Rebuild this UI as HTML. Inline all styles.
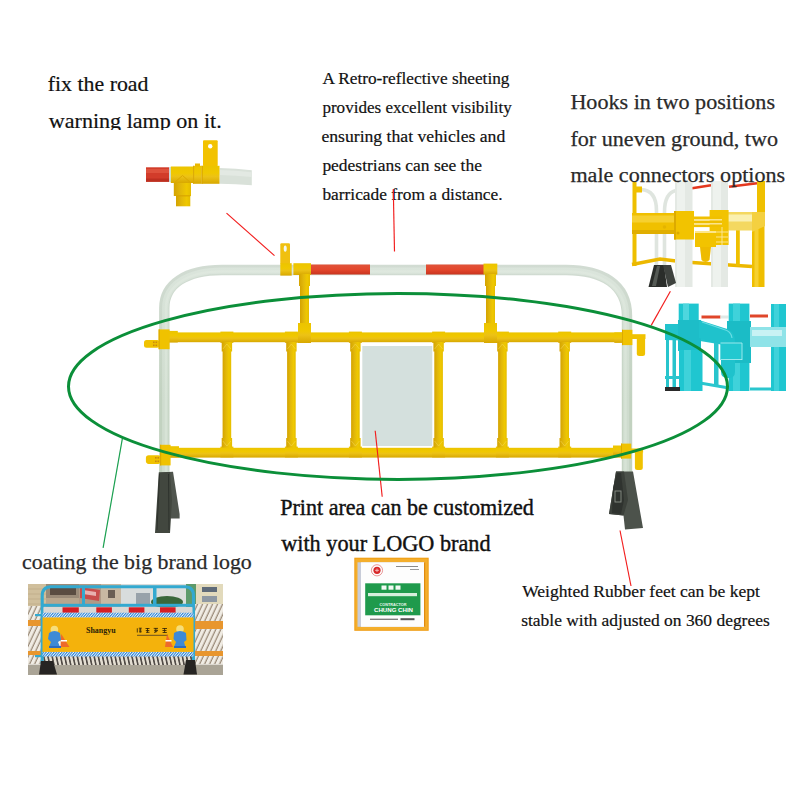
<!DOCTYPE html>
<html><head><meta charset="utf-8">
<style>
html,body{margin:0;padding:0;background:#fff;width:800px;height:800px;overflow:hidden}
svg{position:absolute;left:0;top:0;display:block}
text{font-family:"Liberation Serif",serif;fill:#111}
.t{stroke:#111;stroke-width:0.4}
.ts{stroke:#111;stroke-width:0.2}
.s{font-family:"Liberation Sans",sans-serif}
</style></head><body>
<svg width="800" height="800" viewBox="0 0 800 800">
<defs>
  <linearGradient id="yv" x1="0" y1="0" x2="1" y2="0">
    <stop offset="0" stop-color="#d4a300"/><stop offset="0.4" stop-color="#e2b80a"/><stop offset="0.75" stop-color="#efc800"/><stop offset="1" stop-color="#e4bc00"/>
  </linearGradient>
  <linearGradient id="yh" x1="0" y1="0" x2="0" y2="1">
    <stop offset="0" stop-color="#ecc400"/><stop offset="0.4" stop-color="#f0c800"/><stop offset="0.6" stop-color="#ecc216"/><stop offset="1" stop-color="#d8a800"/>
  </linearGradient>
  <linearGradient id="wv" x1="0" y1="0" x2="1" y2="0">
    <stop offset="0" stop-color="#c9d2cc"/><stop offset="0.4" stop-color="#eef2ee"/><stop offset="1" stop-color="#cdd6d0"/>
  </linearGradient>
  <linearGradient id="wh" x1="0" y1="0" x2="0" y2="1">
    <stop offset="0" stop-color="#d3dbd5"/><stop offset="0.4" stop-color="#eef2ee"/><stop offset="1" stop-color="#cdd6d0"/>
  </linearGradient>
  <linearGradient id="rh" x1="0" y1="0" x2="0" y2="1">
    <stop offset="0" stop-color="#e0533a"/><stop offset="0.5" stop-color="#e4472c"/><stop offset="1" stop-color="#c8341f"/>
  </linearGradient>
  <linearGradient id="tO" gradientUnits="userSpaceOnUse" x1="0" y1="262" x2="0" y2="400">
    <stop offset="0" stop-color="#d2dcd3"/><stop offset="1" stop-color="#c2d2c0"/>
  </linearGradient>
  <linearGradient id="tM" gradientUnits="userSpaceOnUse" x1="0" y1="262" x2="0" y2="400">
    <stop offset="0" stop-color="#dbe5dc"/><stop offset="1" stop-color="#cfdcce"/>
  </linearGradient>
  <linearGradient id="tH" gradientUnits="userSpaceOnUse" x1="0" y1="262" x2="0" y2="400">
    <stop offset="0" stop-color="#dfe8df"/><stop offset="1" stop-color="#d7e3d6"/>
  </linearGradient>
</defs>

<!-- ===== TEXT ===== -->
<text class="ts" x="47.7" y="91.25" textLength="100.8" lengthAdjust="spacingAndGlyphs" font-size="21">fix the road</text>
<text class="ts" x="48.8" y="127.60" textLength="172.9" lengthAdjust="spacingAndGlyphs" font-size="21">warning lamp on it.</text>

<g font-size="17.4">
<text class="ts" x="322.4" y="83.80" textLength="187.1" lengthAdjust="spacingAndGlyphs">A Retro-reflective sheeting</text>
<text class="ts" x="322.4" y="112.60" textLength="189.5" lengthAdjust="spacingAndGlyphs">provides excellent visibility</text>
<text class="ts" x="321.4" y="142.20" textLength="183.9" lengthAdjust="spacingAndGlyphs">ensuring that vehicles and</text>
<text class="ts" x="322.4" y="171.10" textLength="159.5" lengthAdjust="spacingAndGlyphs">pedestrians can see the</text>
<text class="ts" x="322.4" y="200.3" textLength="180.2" lengthAdjust="spacingAndGlyphs">barricade from a distance.</text>
</g>

<g font-size="21.6" style="fill:#2a2a2a;stroke:#2a2a2a;stroke-width:0.25">
<text class="t" x="570.4" y="108.90" textLength="204.6" lengthAdjust="spacingAndGlyphs" style="fill:#2a2a2a;stroke:#2a2a2a;stroke-width:0.25">Hooks in two positions</text>
<text class="t" x="570.4" y="145.50" textLength="207.6" lengthAdjust="spacingAndGlyphs" style="fill:#2a2a2a;stroke:#2a2a2a;stroke-width:0.25">for uneven ground, two</text>
</g>

<!-- ===== LAMP INSET ===== -->
<rect x="40" y="130" width="220" height="12" fill="#fff"/>
<g id="lamp">
  <rect x="146" y="167.3" width="23.5" height="14.5" fill="#d23c2a"/>
  <rect x="146" y="169" width="23.5" height="4" fill="#e25a45" opacity="0.7"/>
  <rect x="146" y="178.5" width="23.5" height="3.3" fill="#b82c1e" opacity="0.8"/>
  <rect x="169.2" y="167" width="2" height="15" fill="#c9e6ee"/>
  <path d="M219.5 168 Q236 168.5 251.8 170.3 L251.8 185.3 Q236 183.8 219.5 183.8 Z" fill="#d9e1d9"/>
  <path d="M219.5 170 Q236 170.5 251.8 172.3 L251.8 177 Q236 175.5 219.5 175 Z" fill="#e3e9e3"/>
  <rect x="173.8" y="182" width="17.2" height="14" fill="url(#yv)"/>
  <rect x="176" y="195.5" width="14.3" height="10.8" fill="url(#yv)"/>
  <rect x="176" y="195.2" width="14.3" height="1.2" fill="#d9a600"/>
  <rect x="170.8" y="166.5" width="22.5" height="16.5" fill="url(#yh)"/>
  <path d="M174 183 L182.5 175.5 L191 183" fill="none" stroke="#dca800" stroke-width="1"/>
  <rect x="193.2" y="165.8" width="8.3" height="18" fill="url(#yh)"/><rect x="193.2" y="165.8" width="0.9" height="18" fill="#d8a400"/>
  <rect x="195" y="163.5" width="5" height="3" fill="#eab800"/>
  <rect x="203" y="140.3" width="14.7" height="26" rx="1" fill="#f2c200"/>
  <circle cx="210.2" cy="146.3" r="2.2" fill="#fff"/>
  <rect x="201.5" y="165.8" width="18" height="18" fill="url(#yh)"/>
  <rect x="201.5" y="165.8" width="1.2" height="18" fill="#d9a600"/>
</g>

<!-- ===== MAIN BARRIER ===== -->
<g id="barrier">
  <!-- white tube frame -->
  <path d="M164.3 473 L164.3 308 C164.3 284 186 270 222 270 L566 270 C602 270 627 284 627 316 L627 473" fill="none" stroke="url(#tO)" stroke-width="10.4"/>
  <path d="M165.3 473 L165.3 308 C165.3 285 187 270.6 222 270.6 L566 270.6 C601 270.6 626 285 626 316 L626 473" fill="none" stroke="url(#tM)" stroke-width="6.4"/>
  <path d="M166 473 L166 308 C166 286 187 271.4 222 271.4 L566 271.4 C600 271.4 625.5 286 625.5 316 L625.5 473" fill="none" stroke="url(#tH)" stroke-width="2.4"/>
  <!-- red reflective segments -->
  <rect x="311" y="264.5" width="59" height="10" fill="url(#rh)"/>
  <rect x="426" y="264.5" width="58" height="10" fill="url(#rh)"/>

  <!-- vertical connectors from top rail -->
  <rect x="300" y="272" width="9" height="62" fill="url(#yv)"/>
  <rect x="486" y="272" width="9" height="62" fill="url(#yv)"/>
  <!-- top T joints -->
  <rect x="293.4" y="263.2" width="17.6" height="11.8" fill="url(#yh)"/>
  <rect x="299" y="274" width="11" height="12" fill="url(#yv)"/>
  <rect x="483.5" y="263.6" width="13.8" height="11" fill="url(#yh)"/>
  <rect x="485" y="274" width="11" height="12" fill="url(#yv)"/>
  <!-- lamp bracket -->
  <rect x="280.3" y="243.2" width="9.7" height="21" rx="1.2" fill="#f0c010"/>
  <ellipse cx="285.2" cy="248.6" rx="1.5" ry="3.2" fill="#f4f8f0"/>
  <rect x="280.3" y="263.2" width="11.4" height="12.4" fill="url(#yh)"/>

  <!-- yellow rails -->
  <rect x="168" y="332.4" width="460" height="9.8" fill="url(#yh)"/>
  <rect x="168" y="447.8" width="460" height="9.8" fill="url(#yh)"/>

  <!-- vertical bars -->
  <g fill="url(#yv)">
    <rect x="222.6" y="340" width="8.6" height="110"/>
    <rect x="287.1" y="340" width="8.6" height="110"/>
    <rect x="351.1" y="340" width="8.6" height="110"/>
    <rect x="434.3" y="340" width="8.6" height="110"/>
    <rect x="498.1" y="340" width="8.6" height="110"/>
    <rect x="560.4" y="340" width="8.6" height="110"/>
  </g>
  <!-- panel -->
  <rect x="362.3" y="346" width="70" height="100" fill="#d4e0dd"/>

  <!-- joints on rails -->
  <g fill="url(#yh)">
    <rect x="220.4" y="331.6" width="13" height="11.2"/><rect x="284.9" y="331.6" width="13" height="11.2"/><rect x="348.9" y="331.6" width="13" height="11.2"/><rect x="432.1" y="331.6" width="13" height="11.2"/><rect x="495.9" y="331.6" width="13" height="11.2"/><rect x="558.2" y="331.6" width="13" height="11.2"/>
    <rect x="298" y="323" width="13" height="20"/><rect x="484" y="323" width="13" height="20"/>
    <rect x="220.4" y="446.6" width="13" height="10.8"/><rect x="284.9" y="446.6" width="13" height="10.8"/><rect x="348.9" y="446.6" width="13" height="10.8"/><rect x="432.1" y="446.6" width="13" height="10.8"/><rect x="495.9" y="446.6" width="13" height="10.8"/><rect x="558.2" y="446.6" width="13" height="10.8"/>
  </g>
  <g fill="url(#yv)">
    <rect x="221.7" y="342" width="10.4" height="9.5"/><rect x="286.2" y="342" width="10.4" height="9.5"/><rect x="350.2" y="342" width="10.4" height="9.5"/><rect x="433.4" y="342" width="10.4" height="9.5"/><rect x="497.2" y="342" width="10.4" height="9.5"/><rect x="559.5" y="342" width="10.4" height="9.5"/>
    <rect x="221.7" y="438" width="10.4" height="9.5"/><rect x="286.2" y="438" width="10.4" height="9.5"/><rect x="350.2" y="438" width="10.4" height="9.5"/><rect x="433.4" y="438" width="10.4" height="9.5"/><rect x="497.2" y="438" width="10.4" height="9.5"/><rect x="559.5" y="438" width="10.4" height="9.5"/>
  </g>
  <g stroke="#f8dc60" stroke-width="0.7" fill="none" opacity="0.7"><path d="M222.9 349 L226.9 344 L230.9 349"/><path d="M287.4 349 L291.4 344 L295.4 349"/><path d="M351.4 349 L355.4 344 L359.4 349"/><path d="M434.6 349 L438.6 344 L442.6 349"/><path d="M498.4 349 L502.4 344 L506.4 349"/><path d="M560.7 349 L564.7 344 L568.7 349"/><path d="M222.9 441 L226.9 446 L230.9 441"/><path d="M287.4 441 L291.4 446 L295.4 441"/><path d="M351.4 441 L355.4 446 L359.4 441"/><path d="M434.6 441 L438.6 446 L442.6 441"/><path d="M498.4 441 L502.4 446 L506.4 441"/><path d="M560.7 441 L564.7 446 L568.7 441"/></g>
  <!-- corner joints on white tube -->
  <g fill="#f0c200">
  <rect x="169" y="330.9" width="8.8" height="11.6" fill="url(#yh)"/>
  <rect x="158.6" y="329.4" width="11" height="19.8"/>
  <rect x="144" y="339.9" width="15.5" height="7.9" rx="2.5"/>
  <rect x="170" y="446.2" width="9" height="11.3" fill="url(#yh)"/>
  <rect x="160" y="444.8" width="10.6" height="20.6"/>
  <rect x="145.9" y="455.2" width="15" height="8.7" rx="2.8"/>
  <rect x="614.3" y="332.4" width="8.2" height="10.5" fill="url(#yh)"/>
  <rect x="622" y="329.8" width="10.4" height="15.3"/>
  <rect x="631.5" y="334.2" width="14" height="4.8"/>
  <rect x="636.8" y="337" width="8.3" height="19" rx="2.5"/>
  <rect x="613" y="445.5" width="8.5" height="9.5" fill="url(#yh)"/>
  <rect x="621" y="443.6" width="10.2" height="15"/>
  <rect x="630.5" y="448.5" width="12.6" height="4.2"/>
  <rect x="634.9" y="451" width="7.9" height="19" rx="2.5"/>
  </g>
  <g fill="#c88a10">
    <rect x="153" y="341.5" width="1.6" height="1.6"/><rect x="155.5" y="341.5" width="1.6" height="1.6"/>
    <rect x="153" y="344.5" width="1.6" height="1.6"/><rect x="155.5" y="344.5" width="1.6" height="1.6"/>
    <rect x="155" y="457" width="1.6" height="1.6"/><rect x="157.5" y="457" width="1.6" height="1.6"/>
    <rect x="155" y="460.5" width="1.6" height="1.6"/><rect x="157.5" y="460.5" width="1.6" height="1.6"/>
  </g>
  <rect x="158.6" y="329.4" width="1.2" height="19.8" fill="#dcaa00"/>
  <rect x="622" y="329.8" width="1" height="15.3" fill="#dcaa00"/>
  <rect x="160" y="444.8" width="1.2" height="20.6" fill="#dcaa00"/>
  <rect x="621" y="443.6" width="1" height="15" fill="#dcaa00"/>

  <!-- feet -->
  <polygon points="158.8,472.5 173,471.8 179.6,514 179.6,518.5 170,518.5" fill="#50554e"/>
  <polygon points="158.8,472.5 170,472 172,500 170,533 155,533" fill="#42473f"/>
  <path d="M159.5 474 L157 530 M168.5 474 L169 530" stroke="#2e322d" stroke-width="1"/>
  <polygon points="616,471.5 633,471.5 643,528 625,529.5 623.5,515.5 609,514" fill="#4c524b"/>
  <polygon points="616,471.5 624,471.5 628,500 623.5,515.5 609,514" fill="#3c413b"/>
  <polygon points="613,488 617,473 621,473 624,500 621,514 612,513" fill="#2f332f"/>
  <rect x="615" y="491" width="6" height="11" fill="none" stroke="#8a9088" stroke-width="0.9"/>
  </g>

<!-- ===== YELLOW HOOK PHOTO ===== -->
<g id="hookY">
  <!-- thin white arcs -->
  <path d="M641 189.5 Q656.5 190 656.5 211 L656.5 265" fill="none" stroke="#dfe5df" stroke-width="3.6"/>
  <path d="M676 190.5 Q664.5 193 664.5 212 L664.5 265" fill="none" stroke="#dfe5df" stroke-width="3.6"/>
  <!-- red top bars -->
  <path d="M692 188.3 L711 185.3" stroke="#e4381f" stroke-width="2.6"/>
  <path d="M729 186.8 L757 183.3" stroke="#e4381f" stroke-width="2.6"/>
  <!-- left thin yellow post -->
  <rect x="632.5" y="182" width="4" height="84" fill="#eebf00"/>
  <rect x="633" y="186.5" width="9" height="6" fill="#f0c000"/>
  <!-- lower rails -->
  <path d="M632 264.5 L660 259 L676 261" fill="none" stroke="#ecb800" stroke-width="3.4"/>
  <path d="M692 262.5 L752 266.5" fill="none" stroke="#ecb800" stroke-width="3.4"/>
  <rect x="736" y="229" width="3.8" height="37" fill="#efc000"/>
  <!-- big white tubes -->
  <rect x="675" y="181" width="17.5" height="106" fill="#e4e9e4"/>
  <rect x="677" y="181" width="8" height="106" fill="#eef2ee"/>
  <rect x="711" y="181" width="17" height="106" fill="#e4e9e4"/>
  <rect x="713" y="181" width="8" height="106" fill="#eef2ee"/>
  <!-- big horizontal yellow tube -->
  <rect x="632" y="213" width="44" height="21" fill="#f0c000"/>
  <rect x="632" y="215.5" width="44" height="7" fill="#f6d030"/>
  <rect x="632" y="230" width="44" height="4" fill="#e0ae00"/>
  <rect x="728" y="212" width="29" height="18.5" fill="#f4d860"/>
  <rect x="728" y="214.5" width="29" height="7" fill="#faf0b0"/>
  <!-- right post -->
  <rect x="757" y="181" width="8" height="34" fill="#efc000"/>
  <rect x="752" y="212" width="12.5" height="75" fill="#efbe00"/>
  <rect x="754.5" y="212" width="4" height="75" fill="#f6d030"/>
  <path d="M752 212 L765 212 L765 226 L752 232 Z" fill="#f4d040"/>
  <!-- sleeves -->
  <rect x="674" y="211" width="20" height="28.5" fill="#f2c300"/>
  <rect x="674" y="211" width="2" height="28.5" fill="#dcaa00"/>
  <circle cx="664.5" cy="227" r="1.8" fill="#e4b400"/>
  <circle cx="678" cy="233" r="1.5" fill="#dcaa00"/>
  <rect x="709.6" y="210" width="19" height="35" fill="#f2c300"/>
  <!-- hook connector -->
  <rect x="694" y="216.5" width="28" height="2.6" fill="#f0c000"/>
  <rect x="694" y="220.5" width="28" height="2.6" fill="#eebe00"/>
  <rect x="694" y="224.5" width="28" height="2.6" fill="#f0c000"/>
  <rect x="694" y="219" width="28" height="1.5" fill="#fbe48a"/>
  <rect x="694" y="223" width="28" height="1.5" fill="#fbe48a"/>
  <rect x="695" y="231" width="21" height="16" fill="#f2c300"/>
  <rect x="695" y="231" width="21" height="2" fill="#fde68a"/>
  <path d="M700 247 L711 247 L709.5 260 Q705.5 264 701.5 260 Z" fill="#eebb00"/>
  <rect x="716" y="227" width="12" height="18" fill="#f2c300"/>
  <path d="M716 232 L728 232 M716 237 L728 237 M716 242 L728 242 M722 227 L722 245" stroke="#fce9a0" stroke-width="0.9"/>
  <!-- feet -->
  <path d="M654 265 L664 265 L667 287 L648.5 287 Z" fill="#2a2d2a"/>
  <path d="M663 265 L671 265 L676 283 L668 287 Z" fill="#3e423e"/>
  <path d="M657 266 L660 266 L656 286 L652 286 Z" fill="#555a55"/>
</g>

<!-- ===== TEAL HOOK PHOTO ===== -->
<g id="hookT">
  <!-- red bars -->
  <rect x="701.5" y="315.5" width="19" height="3" fill="#e0462a"/>
  <rect x="720.5" y="315.5" width="8" height="3" fill="#dfe9e6"/>
  <rect x="750" y="314.5" width="18" height="3" fill="#e0462a"/>
  <!-- left thin verticals -->
  <rect x="666" y="338" width="3" height="50" fill="#28c4cc"/>
  <rect x="672.5" y="338" width="3.5" height="50" fill="#28c4cc"/>
  <path d="M700 383 L729 388 M750 389 L771 389" stroke="#2ac6ce" stroke-width="3"/>
  <rect x="665" y="376" width="14" height="3" fill="#2ac6ce"/>
  <rect x="745" y="345" width="3" height="40" fill="#28c4cc"/>
  <!-- left horizontal block -->
  <path d="M665 324 L700 324 L730 332 L730 346 L700 341 L665 340 Z" fill="#22c3cd"/>
  <!-- tubes -->
  <rect x="678.7" y="303.6" width="20" height="25" fill="#1fc6d0"/>
  <rect x="683" y="303.6" width="6" height="25" fill="#4ed6de"/>
  <rect x="678" y="320" width="23" height="31" fill="#1dbdc8"/>
  <rect x="679" y="350" width="23.5" height="41" fill="#1fc6d0"/>
  <rect x="684" y="350" width="7" height="41" fill="#3fd2da"/>
  <rect x="728.7" y="303.6" width="20.7" height="87.4" fill="#1fc6d0"/>
  <rect x="733" y="303.6" width="7" height="87.4" fill="#3fd2da"/>
  <rect x="727" y="321" width="24" height="42" fill="#1bbcc6"/>
  <rect x="771" y="304" width="15" height="87" fill="#1fc6d0"/>
  <rect x="774" y="304" width="5" height="87" fill="#3fd2da"/>
  <!-- light horizontal tube -->
  <rect x="750" y="327" width="36" height="20" fill="#8fe3e8"/>
  <rect x="752" y="330" width="30" height="6" fill="#c8f2f4"/>
  <!-- hook bend -->
  <rect x="714" y="343" width="4.5" height="42" fill="#28c4cc"/>
  <path d="M699 320 L724 328 Q735 330 735 342 L735 372 Q735 378 728 378 Q721 378 721 372 L721 344 L699 338 Z" fill="#1fc2cc"/>
  <path d="M702 322 L724 329.5 Q731 331 732 338" fill="none" stroke="#6adde4" stroke-width="1.2"/>
  <rect x="720.3" y="342.8" width="22" height="17.2" fill="#22c8d0"/>
  <path d="M742 343 V360 M720.5 343 H742 M720.5 359.5 H742" stroke="#b8f0f2" stroke-width="0.8"/>
  <rect x="665" y="387" width="15" height="4" fill="#2a2a2a"/>
</g>

<!-- overlapping third line of hooks text -->
<text class="t" x="570.4" y="181.50" textLength="214.8" lengthAdjust="spacingAndGlyphs" font-size="21.6" style="fill:#2a2a2a;stroke:#2a2a2a;stroke-width:0.25">male connectors options</text>

<!-- ===== BRAND PHOTO ===== -->
<defs>
  <pattern id="bstripe" width="2.6" height="5" patternUnits="userSpaceOnUse" patternTransform="skewX(-40)">
    <rect width="2.6" height="5" fill="#eef6fc"/><rect width="1.4" height="5" fill="#2f86d8"/>
  </pattern>
  <pattern id="slats" width="4.2" height="10" patternUnits="userSpaceOnUse" patternTransform="skewX(12)">
    <rect width="4.2" height="10" fill="#e4ded2"/><rect width="1.6" height="10" fill="#4a4440"/>
  </pattern>
  <pattern id="cyl" width="5" height="8" patternUnits="userSpaceOnUse" patternTransform="skewX(-25)">
    <rect width="5" height="8" fill="#f0ece4"/><rect x="3.6" width="1.4" height="8" fill="#9a8a78"/>
  </pattern>
</defs>
<g id="brand">
  <rect x="28" y="584" width="195" height="91" fill="#dcd8d0"/>
  <!-- buildings / sky -->
  <rect x="28" y="584" width="18" height="23" fill="#d0bf9c"/>
  <path d="M28 589 H46 M28 594 H46 M28 599 H46 M28 604 H46" stroke="#b8a684" stroke-width="0.6"/>
  <rect x="46" y="584" width="33" height="23" fill="#9a8a78"/>
  <rect x="50" y="586" width="26" height="9" fill="#5a4c42"/>
  <rect x="46" y="598" width="33" height="9" fill="#b8a68e"/>
  <rect x="79" y="584" width="22" height="23" fill="#b09a86"/>
  <path d="M80 587 L100 590 L99 601 L80 598 Z" fill="#c84c4c"/>
  <path d="M83 590 L96 592 L96 596 L83 594 Z" fill="#e8b0b0"/>
  <rect x="101" y="584" width="20" height="23" fill="#c8b8a2"/>
  <rect x="108" y="590" width="7" height="8" fill="#6a5e54"/>
  <rect x="121" y="584" width="30" height="23" fill="#d8dcdc"/>
  <rect x="136" y="593" width="14" height="12" fill="#98a2aa"/>
  <rect x="151" y="584" width="35" height="23" fill="#dcdedb"/>
  <ellipse cx="167" cy="602" rx="16" ry="6" fill="#3a683a"/>
  <rect x="186" y="584" width="10" height="23" fill="#5e9a6a"/>
  <rect x="196" y="584" width="27" height="23" fill="#e2dabc"/>
  <rect x="202" y="587" width="15" height="5" fill="#5e6a78"/>
  <rect x="202" y="596" width="15" height="6" fill="#8e98a2"/>
  <!-- stacked barriers left & right -->
  <rect x="28" y="606" width="14" height="58" fill="url(#cyl)"/>
  <rect x="194" y="604" width="29" height="60" fill="url(#cyl)"/>
  <rect x="28" y="620" width="14" height="6" fill="#e8962e"/>
  <rect x="28" y="651" width="14" height="4" fill="#e8962e"/>
  <rect x="194" y="621" width="29" height="8" fill="#e8962e"/>
  <rect x="194" y="651" width="29" height="5" fill="#e8962e"/>
  <!-- slats under banner -->
  <rect x="42" y="656" width="152" height="10" fill="url(#slats)"/>
  <!-- ground -->
  <rect x="28" y="665" width="195" height="10" fill="#aaa496"/>
  <!-- teal frame -->
  <path d="M42.2 664 L42.2 596 Q42.2 586.8 51 586.8 L185 586.8 Q193.5 586.8 193.5 596 L193.5 664" fill="none" stroke="#33a9d0" stroke-width="3.1"/>
  <rect x="82" y="587" width="3" height="19" fill="#33a9d0"/>
  <rect x="153" y="587" width="3.5" height="19" fill="#33a9d0"/>
  <rect x="42" y="603.8" width="152" height="3" fill="#33a9d0"/>
  <rect x="35" y="614" width="8" height="2.2" fill="#33a9d0"/>
  <rect x="35" y="655" width="8" height="2.2" fill="#33a9d0"/>
  <!-- red/white strip -->
  <rect x="43.5" y="607.3" width="149" height="5.5" fill="#dad8d4"/>
  <rect x="62.5" y="607.3" width="16.3" height="5.5" fill="#d61e24"/>
  <rect x="96.3" y="607.3" width="15.6" height="5.5" fill="#d61e24"/>
  <rect x="128.8" y="607.3" width="15.6" height="5.5" fill="#d61e24"/>
  <rect x="160" y="607.3" width="15.6" height="5.5" fill="#d61e24"/>
  <!-- banner -->
  <rect x="42.5" y="612.7" width="151" height="4.8" fill="url(#bstripe)"/>
  <rect x="42.5" y="651.9" width="151" height="4.6" fill="url(#bstripe)"/>
  <rect x="42.5" y="617.5" width="151" height="34.4" fill="#f4b20c"/>
  <text x="86" y="632.5" font-size="8.2" textLength="29.6" lengthAdjust="spacingAndGlyphs" style="fill:#2a1e08;font-weight:bold">Shangyu</text>
  <g stroke="#2a1e08" stroke-width="0.8" fill="none">
    <path d="M137.3 628.3 V632.5 M138.8 628.2 H141.8 M139 630 H141.5 M139 631.8 H141.8 M140.3 628 V632.6"/>
    <path d="M145.5 628.5 H149.5 M147.5 628 V632.6 M145.8 630.5 H149.3 M146 632.3 H149.5"/>
    <path d="M153.7 628.4 H158 M154 630.3 H157.8 M155.8 628 V632.6 M154 632.5 L157.8 630.6"/>
    <path d="M162.3 628.5 H167 M162.5 630.5 H166.5 M164.6 628 V632.6 M162.6 632.5 H166.8"/>
  </g>
  <rect x="137" y="634.8" width="31" height="1" fill="#6a5020"/>
  <!-- mascots -->
  <path d="M58 634 L55 647 L63 647 Z" fill="#f4f0ea"/>
  <path d="M61.2 634 L69.5 647 L60.5 647 Z" fill="#ee6a2a"/>
  <rect x="61" y="640" width="6" height="1.5" fill="#fff"/>
  <circle cx="54.4" cy="629.5" r="3.8" fill="#f6de7a"/>
  <path d="M49 633 Q54.5 629 60 633 L61 640 L58 642 L60 647 L49 647 L51 642 L48 639 Z" fill="#3d8ad6"/>
  <rect x="49" y="646" width="12" height="2" fill="#2c6cc0"/>
  <path d="M167 634 L165 647 L173 647 Z" fill="#ee6a2a"/>
  <rect x="165.5" y="640" width="6" height="1.5" fill="#fff"/>
  <circle cx="180" cy="629" r="3.8" fill="#f6de7a"/>
  <path d="M174 633 Q180 629 186 633 L186.5 640 L184 642 L185.5 647 L174 647 L176 642 L173.5 639 Z" fill="#3d8ad6"/>
  <rect x="174" y="646" width="12" height="2" fill="#2c6cc0"/>
  <!-- feet -->
  <path d="M41 661 L53 661 L57 674.5 L39 674.5 Z" fill="#262422"/>
  <path d="M186 660 L195 660 L197 674.5 L183.5 674.5 Z" fill="#262422"/>
</g>

<!-- ===== LOGO SIGN ===== -->
<g id="sign">
  <rect x="354.3" y="557.7" width="74.4" height="73.1" fill="#ef9c12"/>
  <rect x="355.3" y="558.7" width="72.4" height="71.1" fill="#f4ae2c"/>
  <rect x="357.5" y="562.3" width="67" height="64.5" fill="#c8ccd8"/>
  <rect x="361" y="562.3" width="63.5" height="64.5" fill="#fdfdfd"/>
  <rect x="424" y="562.3" width="1.2" height="64.5" fill="#e08a10"/>
  <rect x="365.2" y="583.3" width="55.2" height="32" fill="#1f9a4c"/>
  <circle cx="377" cy="570.3" r="3.6" fill="#d8282a"/>
  <circle cx="377" cy="570.3" r="5.6" fill="none" stroke="#e06a6a" stroke-width="0.7"/>
  <path d="M375 570.3 L379 570.3 M377 568.5 L377 572" stroke="#fff" stroke-width="0.6"/>
  <rect x="396" y="566" width="22" height="1" fill="#8a8a8a"/>
  <rect x="410" y="569" width="9" height="1" fill="#9a9a9a"/>
  <g fill="#f2faf4">
    <rect x="381.5" y="585.5" width="5" height="4.2"/><rect x="388.5" y="585.5" width="5" height="4.2"/><rect x="395.5" y="585.5" width="5" height="4.2"/>
  </g>
  <rect x="368" y="593" width="49" height="3.2" fill="#d6efdd"/>
  <text x="379.5" y="605.5" font-size="2.8" class="s" style="fill:#e8f6ec;font-weight:bold" textLength="27" lengthAdjust="spacingAndGlyphs">CONTRACTOR</text>
  <text x="374" y="611.5" font-size="4.6" class="s" style="fill:#ffffff;font-weight:bold" textLength="39" lengthAdjust="spacingAndGlyphs">CHUNG CHIN</text>
  <rect x="370" y="618.7" width="28" height="1.1" fill="#606060"/>
  <rect x="400.5" y="618.2" width="14" height="2" fill="#555"/>
</g>

<!-- ===== LEADER LINES ===== -->
<g stroke="#f21d1d" stroke-width="1.15" fill="none">
  <line x1="226.5" y1="213.1" x2="274.5" y2="255.6"/>
  <line x1="393.3" y1="189" x2="394.5" y2="251.5"/>
  <line x1="375.2" y1="430.8" x2="382.2" y2="496.7"/>
  <line x1="620" y1="530.5" x2="631" y2="586"/>
  <line x1="670.4" y1="291.3" x2="651.2" y2="325.4"/>
</g>
<line x1="122.4" y1="438.4" x2="103.1" y2="547.8" stroke="#1aa050" stroke-width="1.2"/>

<!-- ===== GREEN ELLIPSE ===== -->
<ellipse cx="398" cy="386.4" rx="329.5" ry="93" fill="none" stroke="#0b8f39" stroke-width="3"/>

<!-- lower texts -->
<g font-size="22.4">
<text class="t" x="280.2" y="515.30" textLength="253.7" lengthAdjust="spacingAndGlyphs">Print area can be customized</text>
<text class="t" x="281.2" y="551.45" textLength="209.4" lengthAdjust="spacingAndGlyphs">with your LOGO brand</text>
<text class="t" x="22.0" y="568.6" textLength="229.8" lengthAdjust="spacingAndGlyphs" font-size="21" style="fill:#2a2a2a;stroke:#2a2a2a;stroke-width:0.25">coating the big brand logo</text>
</g>
<g font-size="17">
<text class="ts" x="522.2" y="597.40" textLength="237.7" lengthAdjust="spacingAndGlyphs">Weighted Rubber feet can be kept</text>
<text class="ts" x="521.2" y="626.40" textLength="248.5" lengthAdjust="spacingAndGlyphs">stable with adjusted on 360 degrees</text>
</g>

</svg>
</body></html>
